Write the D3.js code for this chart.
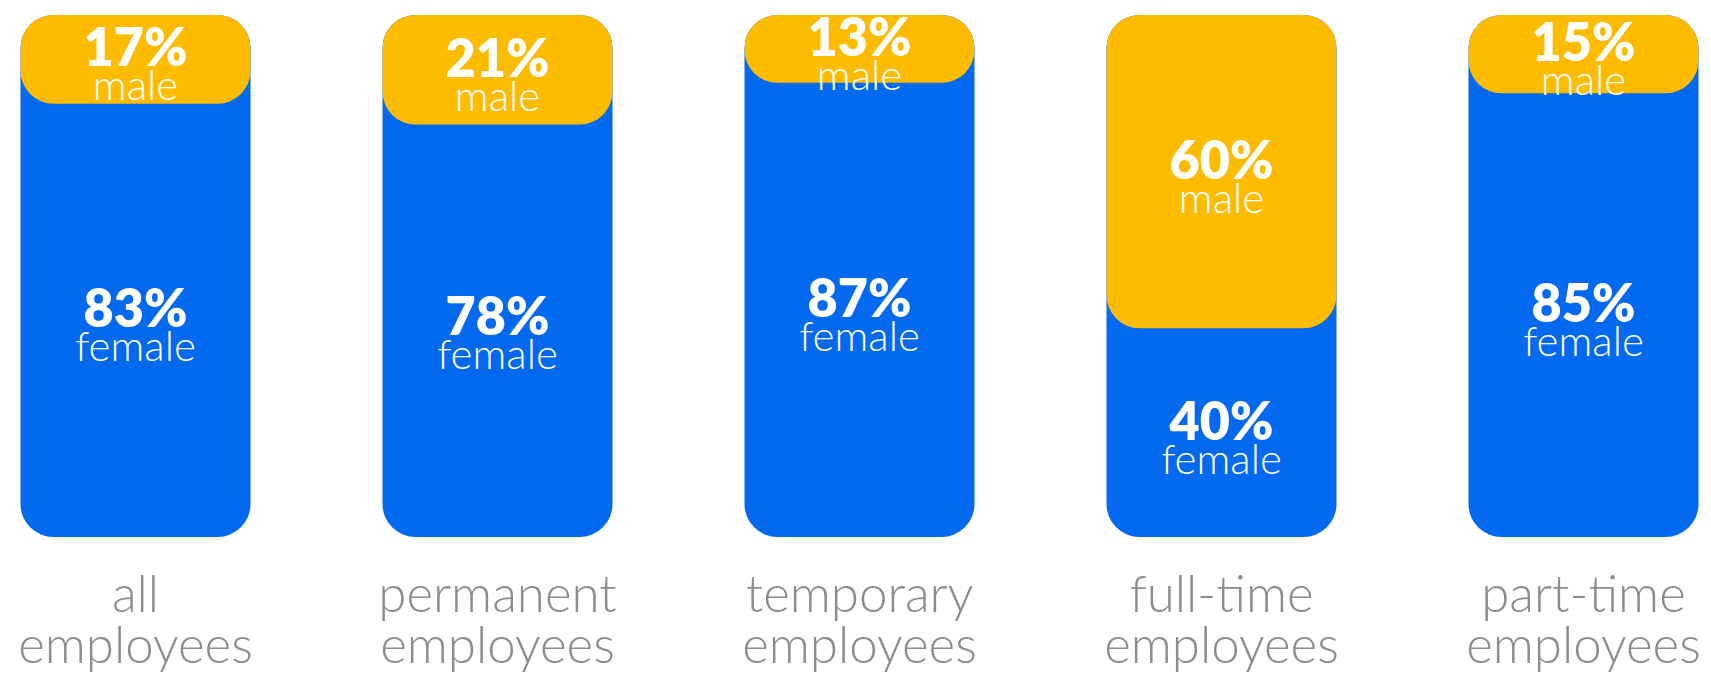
<!DOCTYPE html>
<html>
<head>
<meta charset="utf-8">
<script src="https://cdn.jsdelivr.net/npm/d3@7"></script>
<style>
  html, body { margin: 0; padding: 0; background: #ffffff; }
  svg { display: block; }
</style>
</head>
<body>
<svg id="chart" width="1711" height="675"></svg>
<script>
// Employee groups (two-line captions) and gender split in percent
const categories = ["all", "permanent", "temporary", "full-time", "part-time"];
const captionLine2 = ["employees", "employees", "employees", "employees", "employees"];
const malePct = [17, 21, 13, 60, 15];
const femalePct = [83, 78, 87, 40, 85];

const colors = { male: "#FDBC00", female: "#0369EE", caption: "#8c8c8c" };
const radius = 33;

const svg = d3.select("#chart");

const rows = categories.map((c, i) => ({
  cat: c, line2: captionLine2[i], male: malePct[i], female: femalePct[i]
}));

const x = d3.scaleBand()
  .domain(categories)
  .range([20.5, 1698.5])
  .paddingInner(0.3646)
  .paddingOuter(0);

// Percent scale runs top-down: male share at the top, female share below
const y = d3.scaleLinear().domain([0, 100]).range([15, 537]);

const series = d3.stack().keys(["male", "female"])(rows);
const maleSeg = series[0];
const femaleSeg = series[1];

const g = svg.append("g");

// Blue column spanning the whole 0–100% track
g.selectAll("rect.track")
  .data(rows)
  .join("rect")
  .attr("class", "track")
  .attr("x", d => x(d.cat))
  .attr("width", x.bandwidth())
  .attr("y", y(0))
  .attr("height", y(100) - y(0))
  .attr("rx", radius)
  .attr("fill", colors.female);

// Yellow male cap, rounded on all corners
g.selectAll("rect.male")
  .data(maleSeg)
  .join("rect")
  .attr("class", "male")
  .attr("x", d => x(d.data.cat))
  .attr("width", x.bandwidth())
  .attr("y", d => y(d[0]))
  .attr("height", d => y(d[1]) - y(d[0]))
  .attr("rx", radius)
  .attr("fill", colors.male);

// Value + word label centred in each segment (one text, two lines)
function addLabels(seg, word) {
  const t = g.selectAll("text.lab-" + word)
    .data(seg)
    .join("text")
    .attr("class", "lab-" + word)
    .attr("text-anchor", "middle")
    .attr("fill", "#ffffff")
    .attr("font-family", "Lato, 'Noto Sans', sans-serif")
    .attr("transform", d => {
      const cx = x(d.data.cat) + x.bandwidth() / 2;
      const cy = (y(d[0]) + y(d[1])) / 2;
      return `translate(${cx},${cy})`;
    });
  t.append("tspan")
    .attr("x", 0).attr("y", 7)
    .attr("font-weight", 800)
    .attr("font-size", 52)
    .text(d => d.data[word] + "%");
  t.append("tspan")
    .attr("x", 0).attr("y", 41)
    .attr("font-weight", 300)
    .attr("font-size", 42)
    .text(word);
}
addLabels(maleSeg, "male");
addLabels(femaleSeg, "female");

// Category captions under each bar
const cap = g.selectAll("text.caption")
  .data(rows)
  .join("text")
  .attr("class", "caption")
  .attr("text-anchor", "middle")
  .attr("font-family", "Lato, 'Noto Sans', sans-serif")
  .attr("font-weight", 300)
  .attr("font-size", 51)
  .attr("fill", colors.caption)
  .attr("transform", d => `translate(${x(d.cat) + x.bandwidth() / 2},0)`);
cap.append("tspan").attr("x", 0).attr("y", 612).text(d => d.cat);
cap.append("tspan").attr("x", 0).attr("y", 663).text(d => d.line2);
</script>
</body>
</html>
